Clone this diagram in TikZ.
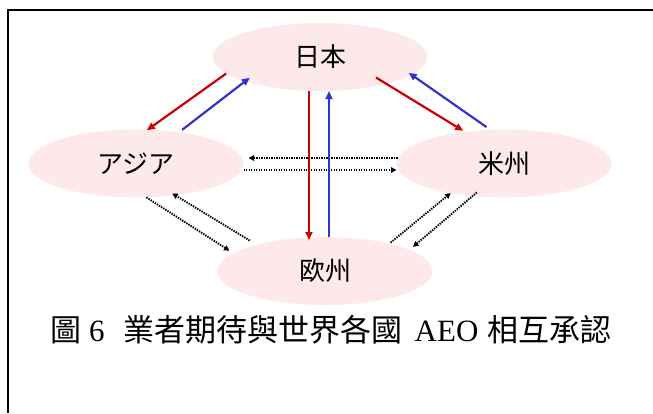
\documentclass[tikz,border=0pt]{standalone}
\usepackage{fontspec}
\setmainfont{Liberation Serif}
\newfontfamily\jpfont{Noto Sans CJK JP}
\newfontfamily\tcfont{Noto Sans CJK TC}
\usetikzlibrary{arrows.meta,shapes.geometric}
\definecolor{ellfill}{RGB}{253,233,233}
\definecolor{arrred}{RGB}{204,0,0}
\definecolor{arrblue}{RGB}{51,51,204}
\newcommand\capcjk[1]{{\tcfont\fontsize{31}{36}\selectfont #1}}
\begin{document}
\begin{tikzpicture}[x=1pt,y=1pt,
  region/.style={ellipse, fill=ellfill, draw=none, minimum width=215pt, minimum height=68pt,
    inner sep=0pt, outer sep=0pt, font=\jpfont\fontsize{26}{30}\selectfont},
  redarr/.style={color=arrred, line width=2.2pt, -{Triangle[length=8pt,width=7pt]}},
  bluearr/.style={color=arrblue, line width=2.2pt, -{Triangle[length=8pt,width=7pt]}},
  dotarr/.style={color=black, line width=1.9pt, dash pattern=on 1.4pt off 1.1pt,
    -{Triangle[length=5.5pt,width=5.5pt]}},
  frameline/.style={line width=2pt, color=black}]
\useasboundingbox (0,0) rectangle (653,-413);
\draw[frameline] (8,-413) -- (8,-10) -- (653,-10);

\node[region] (jp) at (320,-57) {\raisebox{-3pt}{日本}};
\node[region] (asia) at (136,-163.5) {\raisebox{-3pt}{アジア}};
\node[region] (us) at (504,-163.5) {\raisebox{-3pt}{米州}};
\node[region] (eu) at (325,-271) {\raisebox{-3pt}{欧州}};

\draw[dotarr, shorten <=-1pt, shorten >=5pt] ([yshift=5.5pt]us.west) -- ([yshift=5.5pt]asia.east);
\draw[dotarr] ([yshift=-6.5pt]asia.east) -- ([yshift=-6.5pt]us.west);
\draw[dotarr, shorten >=4.6pt] (asia.287.7) -- (eu.169.6);
\draw[dotarr, shorten <=8.2pt, shorten >=-3.3pt] (eu.159.4) -- (asia.321.4);
\draw[dotarr, shorten <=1.8pt] (eu.23) -- (us.209.6);
\draw[dotarr, shorten <=-5.6pt, shorten >=4.7pt] (us.226.5) -- (eu.14.6);

\draw[redarr, shorten >=-1pt] (jp.190.5) -- (asia.71.3);
\draw[bluearr, shorten <=4pt, shorten >=-6pt] (asia.36.1) -- (jp.198.9);
\draw[redarr, shorten <=-12pt, shorten >=2pt] (jp.338.9) -- (us.141.8);
\draw[bluearr, shorten <=4.7pt, shorten >=-3.5pt] (us.112.3) -- (jp.349.1);
\draw[redarr] ([xshift=-11pt]jp.south) -- ([xshift=-16pt,yshift=-3pt]eu.north);
\draw[bluearr] ([xshift=4pt]eu.north) -- ([xshift=9pt]jp.south);

\node[anchor=base west, inner sep=0pt, font=\fontsize{31}{36}\selectfont] (cap) at (50,-341.5)
  {\capcjk{圖}\hspace{8pt}6\hspace{19pt}\capcjk{業者期待與世界各國}\hspace{12pt}AEO\hspace{9.5pt}\capcjk{相互承認}};
\end{tikzpicture}
\end{document}
